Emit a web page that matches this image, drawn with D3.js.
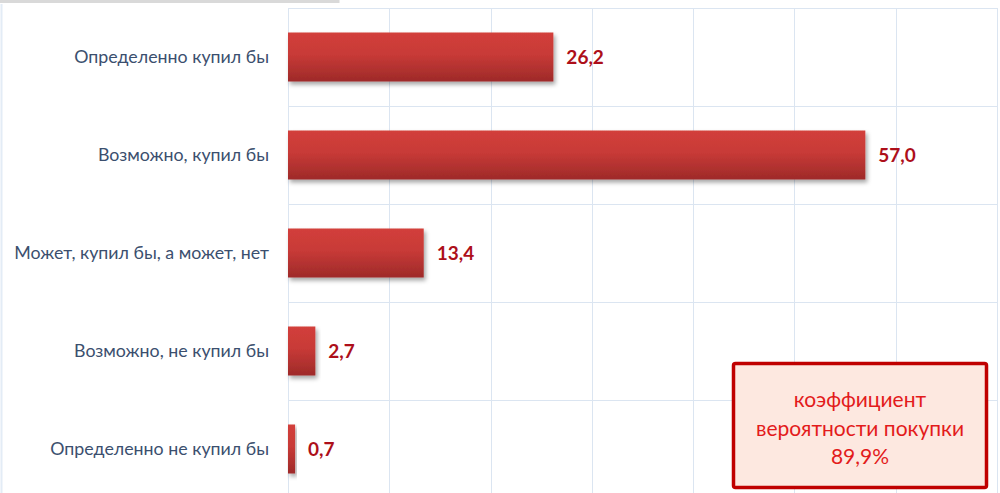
<!DOCTYPE html>
<html>
<head>
<meta charset="utf-8">
<script src="https://cdn.jsdelivr.net/npm/d3@7"></script>
<style>
  body { margin: 0; background: #fff; overflow: hidden; }
  svg { display: block; }
</style>
</head>
<body>
<div id="chart"></div>
<script>
var categories = ['Определенно купил бы', 'Возможно, купил бы', 'Может, купил бы, а может, нет',
  'Возможно, не купил бы', 'Определенно не купил бы'];
var values = [26.2, 57.0, 13.4, 2.7, 0.7];
var valueLabels = ['26,2', '57,0', '13,4', '2,7', '0,7'];
var xTicks = [0, 10, 20, 30, 40, 50, 60, 70];
var boxLines = ['коэффициент', 'вероятности покупки', '89,9%'];

var W = 1000, H = 493;
var margin = {top: 8, left: 288};
var plotW = 709, plotH = 490;
var font = 'Lato, "Open Sans", sans-serif';

var svg = d3.select('#chart').append('svg')
  .attr('width', W)
  .attr('height', H);

var defs = svg.append('defs');
var grad = defs.append('linearGradient')
  .attr('id', 'barGrad')
  .attr('x1', 0).attr('y1', 0).attr('x2', 0).attr('y2', 1);
grad.append('stop').attr('offset', '0%').attr('stop-color', '#d23f3b');
grad.append('stop').attr('offset', '45%').attr('stop-color', '#c83a37');
grad.append('stop').attr('offset', '100%').attr('stop-color', '#9e2a29');

var shadow = defs.append('filter').attr('id', 'shadow')
  .attr('x', '-10%').attr('y', '-10%').attr('width', '130%').attr('height', '140%');
shadow.append('feDropShadow')
  .attr('dx', 2).attr('dy', 3).attr('stdDeviation', 2)
  .attr('flood-color', '#000').attr('flood-opacity', 0.35);

// outer frame bits
svg.append('path')
  .attr('d', 'M0,1.5 H338 V0')
  .attr('fill', 'none').attr('stroke', '#d9d9d9').attr('stroke-width', 3);
svg.append('line')
  .attr('x1', 1.5).attr('x2', 1.5).attr('y1', 4).attr('y2', H)
  .attr('stroke', '#e3ecf6').attr('stroke-width', 2);

var x = d3.scaleLinear()
  .domain([0, 70])
  .range([margin.left, margin.left + plotW]);

var y = d3.scaleBand()
  .domain(categories)
  .range([margin.top, margin.top + plotH])
  .paddingInner(0.5)
  .paddingOuter(0.25);

var gridColor = '#dbe5f1';

// vertical gridlines
svg.append('g').selectAll('line')
  .data(xTicks)
  .enter().append('line')
  .attr('x1', function(d) { return Math.round(x(d)) + 0.5; })
  .attr('x2', function(d) { return Math.round(x(d)) + 0.5; })
  .attr('y1', margin.top)
  .attr('y2', H)
  .attr('stroke', gridColor)
  .attr('stroke-width', 1);

// horizontal gridlines (band edges)
var edges = categories.map(function(c) { return y(c) - y.step() * 0.25; });
edges.push(margin.top + plotH);
svg.append('g').selectAll('line')
  .data(edges)
  .enter().append('line')
  .attr('x1', margin.left)
  .attr('x2', x(70))
  .attr('y1', function(d) { return Math.round(d) + 0.5; })
  .attr('y2', function(d) { return Math.round(d) + 0.5; })
  .attr('stroke', gridColor)
  .attr('stroke-width', 1);

// bars
svg.append('g').selectAll('rect')
  .data(values)
  .enter().append('rect')
  .attr('x', x(0))
  .attr('y', function(d, i) { return y(categories[i]); })
  .attr('width', function(d) { return x(d) - x(0); })
  .attr('height', y.bandwidth())
  .attr('fill', 'url(#barGrad)')
  .attr('filter', 'url(#shadow)');

// value labels
svg.append('g').selectAll('text')
  .data(values)
  .enter().append('text')
  .attr('x', function(d) { return x(d) + 13; })
  .attr('y', function(d, i) { return y(categories[i]) + y.bandwidth() / 2; })
  .attr('dy', '0.35em')
  .attr('font-family', font)
  .attr('font-size', '19px')
  .attr('font-weight', 'bold')
  .attr('fill', '#ad0f1a')
  .text(function(d, i) { return valueLabels[i]; });

// category labels
svg.append('g').selectAll('text')
  .data(categories)
  .enter().append('text')
  .attr('x', 269)
  .attr('y', function(d) { return y(d) + y.bandwidth() / 2; })
  .attr('dy', '0.35em')
  .attr('text-anchor', 'end')
  .attr('font-family', font)
  .attr('font-size', '17.8px')
  .attr('fill', '#3b4f6e')
  .text(function(d) { return d; });

// coefficient box
var box = svg.append('g');
box.append('rect')
  .attr('x', 733.5).attr('y', 363.5)
  .attr('width', 253).attr('height', 124)
  .attr('rx', 2)
  .attr('fill', '#fde8e0')
  .attr('stroke', '#c00000')
  .attr('stroke-width', 3.5);
box.selectAll('text')
  .data(boxLines)
  .enter().append('text')
  .attr('x', 860)
  .attr('y', function(d, i) { return 400 + i * 28.5; })
  .attr('dy', '0.35em')
  .attr('text-anchor', 'middle')
  .attr('font-family', font)
  .attr('font-size', '21px')
  .attr('fill', '#e31b1b')
  .text(function(d) { return d; });
</script>
</body>
</html>
